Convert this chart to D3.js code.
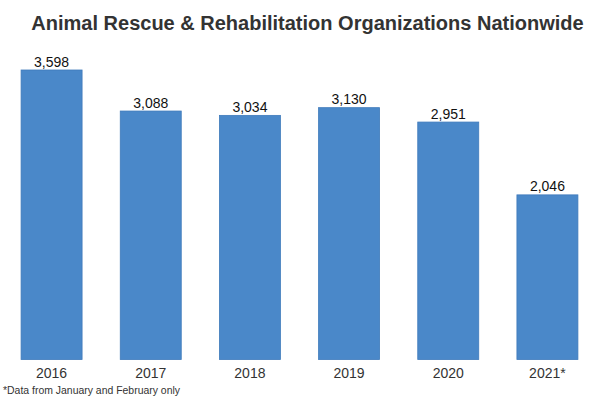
<!DOCTYPE html>
<html><head><meta charset="utf-8">
<script src="https://cdn.jsdelivr.net/npm/d3@7"></script>
<style>body{margin:0;background:#fff}svg{display:block}</style>
</head><body>
<svg id="c" width="600" height="400"></svg>
<script>
const categories = ["2016","2017","2018","2019","2020","2021*"];
const values = [3598, 3088, 3034, 3130, 2951, 2046];
const title = "Animal Rescue & Rehabilitation Organizations Nationwide";
const footnote = "*Data from January and February only";

const svg = d3.select("#c");
const font = "'Liberation Sans', Arial, sans-serif";
const baseY = 359.5;
const x = d3.scaleBand().domain(categories).range([2, 597]).paddingInner(0.385).paddingOuter(0.1925);
const y = d3.scaleLinear().domain([0, 3598]).range([baseY, 70]);

svg.append("text").attr("x", 307.5).attr("y", 30).attr("text-anchor", "middle")
  .attr("font-family", font).attr("font-size", 20).attr("font-weight", "bold")
  .attr("fill", "#333").text(title);

svg.selectAll("rect.bar").data(values).join("rect").attr("class","bar")
  .attr("x", (d,i) => x(categories[i])).attr("width", x.bandwidth())
  .attr("y", d => y(d)).attr("height", d => baseY - y(d))
  .attr("fill", "#4a88c9").attr("stroke", "#3f7abb").attr("stroke-width", 0.8);

svg.selectAll("text.val").data(values).join("text").attr("class","val")
  .attr("x", (d,i) => x(categories[i]) + x.bandwidth()/2).attr("y", d => y(d) - 3.5)
  .attr("text-anchor", "middle").attr("font-family", font).attr("font-size", 14)
  .attr("fill", "#111").text(d => d3.format(",")(d));

const ax = svg.append("g").attr("transform", `translate(0,${baseY})`)
  .call(d3.axisBottom(x).tickSize(0).tickPadding(9));
ax.select(".domain").remove();
ax.selectAll("text").attr("font-family", font).attr("font-size", 14).attr("fill", "#333");

svg.append("text").attr("x", 3).attr("y", 394).attr("font-family", font)
  .attr("font-size", 11).attr("fill", "#333")
  .attr("textLength", 177).attr("lengthAdjust", "spacingAndGlyphs").text(footnote);
</script>
</body></html>
